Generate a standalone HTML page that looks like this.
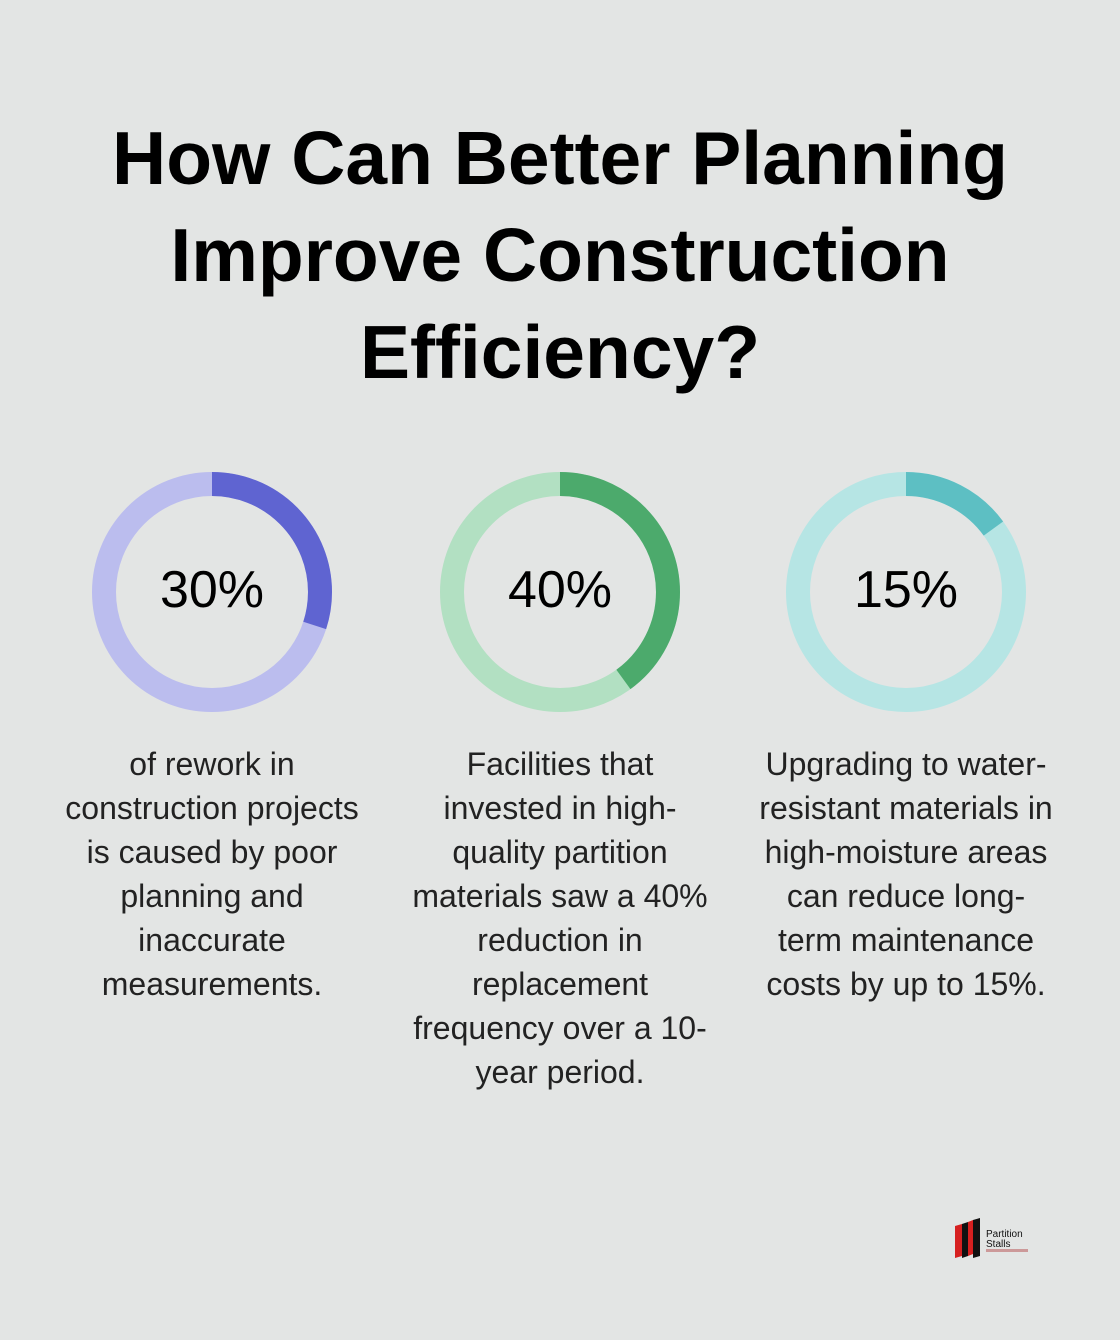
<!DOCTYPE html>
<html><head><meta charset="utf-8"><style>
body{margin:0;width:1120px;height:1340px;background:#e3e5e4;font-family:"Liberation Sans",sans-serif;position:relative;overflow:hidden}
.t{position:absolute;left:0;width:1120px;text-align:center;font-weight:bold;font-size:75px;color:#000;line-height:97px;top:110px}
.p{position:absolute;width:380px;text-align:center;font-size:32px;line-height:44px;color:#222;top:742px}
.n{position:absolute;width:240px;text-align:center;font-size:52px;color:#000;top:560px}
</style></head><body>
<div class="t">How Can Better Planning<br>Improve Construction<br>Efficiency?</div>
<svg width="1120" height="1340" style="position:absolute;left:0;top:0">
<g fill="none" stroke-width="24">
<circle cx="212" cy="592" r="108" stroke="#bbbdee"/>
<circle cx="212" cy="592" r="108" stroke="#5f64d1" stroke-dasharray="203.6 1000" transform="rotate(-90 212 592)"/>
<circle cx="560" cy="592" r="108" stroke="#b2e0c2"/>
<circle cx="560" cy="592" r="108" stroke="#4caa6c" stroke-dasharray="271.4 1000" transform="rotate(-90 560 592)"/>
<circle cx="906" cy="592" r="108" stroke="#b6e5e4"/>
<circle cx="906" cy="592" r="108" stroke="#5dbfc3" stroke-dasharray="101.8 1000" transform="rotate(-90 906 592)"/>
</g>
<g>
<polygon points="955,1226 962,1224 962,1256 955,1258" fill="#d62020"/>
<polygon points="962,1224 968,1222 968,1256 962,1258" fill="#111"/>
<polygon points="968,1222 973,1220 973,1254 968,1256" fill="#d62020"/>
<polygon points="973,1220 980,1218 980,1256 973,1258" fill="#111"/>
<text x="986" y="1237" font-size="10" font-family="Liberation Sans" fill="#111">Partition</text>
<text x="986" y="1247" font-size="10" font-family="Liberation Sans" fill="#111">Stalls</text>
<rect x="986" y="1249" width="42" height="3" fill="#c99"/>
</g>
</svg>
<div class="n" style="left:92px">30%</div>
<div class="n" style="left:440px">40%</div>
<div class="n" style="left:786px">15%</div>
<div class="p" style="left:22px">of rework in<br>construction projects<br>is caused by poor<br>planning and<br>inaccurate<br>measurements.</div>
<div class="p" style="left:370px">Facilities that<br>invested in high-<br>quality partition<br>materials saw a 40%<br>reduction in<br>replacement<br>frequency over a 10-<br>year period.</div>
<div class="p" style="left:716px">Upgrading to water-<br>resistant materials in<br>high-moisture areas<br>can reduce long-<br>term maintenance<br>costs by up to 15%.</div>
</body></html>
